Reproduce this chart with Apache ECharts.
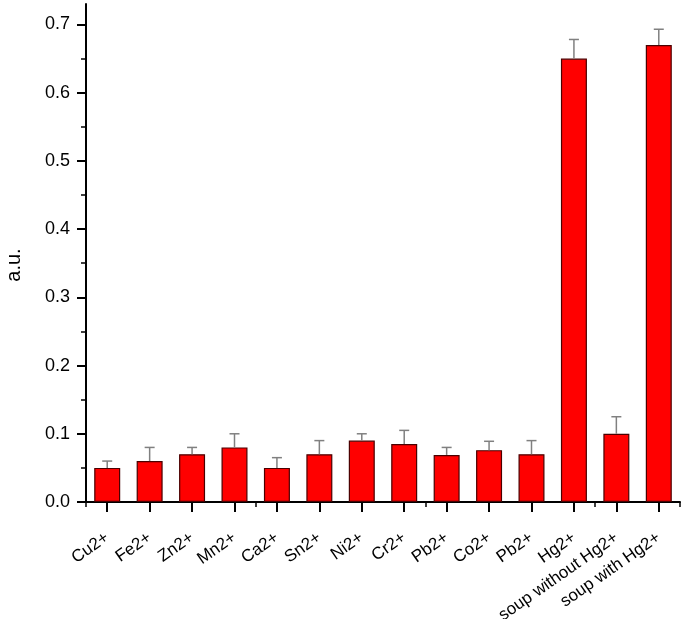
<!DOCTYPE html>
<html>
<head>
<meta charset="utf-8">
<script src="https://cdn.jsdelivr.net/npm/echarts@6/dist/echarts.min.js"></script>
<style>
html,body{margin:0;padding:0;background:#fff;}
#chart{width:685px;height:619px;}
</style>
</head>
<body>
<div id="chart"></div>
<script>
var categories = ['Cu2+','Fe2+','Zn2+','Mn2+','Ca2+','Sn2+','Ni2+','Cr2+','Pb2+','Co2+','Pb2+','Hg2+','soup without Hg2+','soup with Hg2+'];
var values = [0.05,0.06,0.07,0.08,0.05,0.07,0.09,0.085,0.069,0.076,0.07,0.65,0.10,0.67];
var errors = [0.01,0.02,0.01,0.02,0.015,0.02,0.01,0.02,0.011,0.013,0.02,0.028,0.025,0.023];
var yMajorTicks = [0,0.1,0.2,0.3,0.4,0.5,0.6,0.7];
var yMinorTicks = [0.05,0.15,0.25,0.35,0.45,0.55,0.65];
var yAxisName = 'a.u.';

var errData = values.map(function(v,i){ return [i, v, errors[i]]; });
var FONT = '"Liberation Sans", Arial, sans-serif';

var chart = echarts.init(document.getElementById('chart'), null, {renderer:'canvas'});
chart.setOption({
  animation:false,
  backgroundColor:'#ffffff',
  grid:{left:86, right:5, top:4, bottom:117, containLabel:false, outerBoundsMode:'none'},
  xAxis:[{
    type:'category', data:categories, boundaryGap:true,
    axisLine:{show:true, onZero:false, lineStyle:{color:'#000', width:2}},
    axisTick:{show:true, alignWithLabel:true, length:10, lineStyle:{color:'#000', width:2}},
    axisLabel:{interval:0, rotate:35, fontSize:17, color:'#000', fontFamily:FONT, margin:34},
    splitLine:{show:false}
  },{
    type:'category', data:categories, boundaryGap:true, position:'bottom', offset:0,
    axisLine:{show:false},
    axisTick:{show:true, alignWithLabel:false, length:5, lineStyle:{color:'#000', width:1.5}},
    axisLabel:{show:false},
    splitLine:{show:false}
  }],
  yAxis:[{
    type:'value', min:0, max:0.73, interval:0.1,
    name:yAxisName, nameLocation:'middle', nameGap:62, nameRotate:90,
    nameTextStyle:{fontSize:20, color:'#000', fontFamily:FONT, padding:[0,24,0,0]},
    axisLine:{show:true, onZero:false, lineStyle:{color:'#000', width:2}},
    axisTick:{show:true, length:9, customValues:yMajorTicks, lineStyle:{color:'#000', width:2}},
    axisLabel:{fontSize:18, color:'#000', fontFamily:FONT, margin:16, customValues:yMajorTicks,
      formatter:function(v){return v.toFixed(1);}},
    splitLine:{show:false}
  },{
    type:'value', min:0, max:0.73, position:'left', offset:0,
    axisLine:{show:false},
    axisTick:{show:true, length:5, customValues:yMinorTicks, lineStyle:{color:'#000', width:1.5}},
    axisLabel:{show:false},
    splitLine:{show:false}
  }],
  series:[{
    type:'bar', xAxisIndex:0, yAxisIndex:0, data:values, barWidth:26,
    itemStyle:{color:'#ff0000', borderColor:'#4a0000', borderWidth:1.2},
    z:2
  },{
    type:'custom', xAxisIndex:0, yAxisIndex:0, data:errData, z:3,
    renderItem:function(params, api){
      var i = api.value(0), v = api.value(1), e = api.value(2);
      var base = api.coord([i, v]);
      var top = api.coord([i, v + e]);
      var half = 5;
      return {type:'group', children:[
        {type:'line', shape:{x1:base[0], y1:base[1], x2:top[0], y2:top[1]}, style:{stroke:'#808080', lineWidth:1.5}},
        {type:'line', shape:{x1:top[0]-half, y1:top[1], x2:top[0]+half, y2:top[1]}, style:{stroke:'#808080', lineWidth:1.5}}
      ]};
    }
  }]
});
</script>
</body>
</html>
